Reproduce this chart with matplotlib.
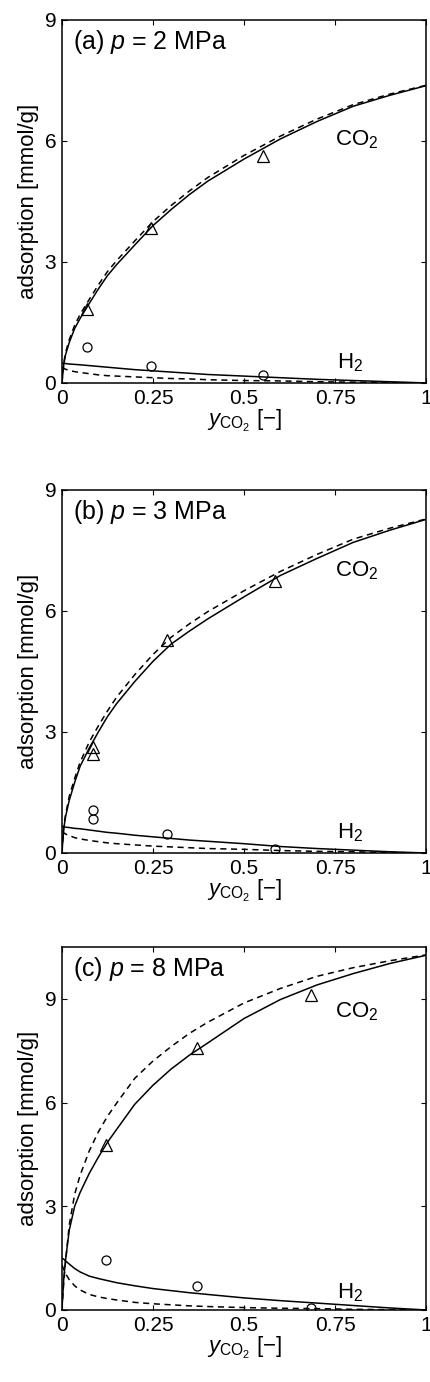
import matplotlib.pyplot as plt

plt.rcParams['font.family'] = ['Liberation Sans', 'DejaVu Sans']
plt.rcParams['mathtext.fontset'] = 'custom'
plt.rcParams['mathtext.rm'] = 'Liberation Sans'
plt.rcParams['mathtext.it'] = 'Liberation Sans:italic'

# model curves (x = CO2 mole fraction in gas)
x_curve = [0.0, 0.005, 0.01, 0.02, 0.035, 0.05, 0.075, 0.1, 0.125, 0.15, 0.2,
           0.25, 0.3, 0.35, 0.4, 0.5, 0.6, 0.7, 0.8, 0.9, 1.0]

co2_solid_a = [0.0, 0.45, 0.7, 1.0, 1.35, 1.6, 1.97, 2.33, 2.66, 2.93, 3.42,
               3.9, 4.3, 4.67, 5.0, 5.55, 6.05, 6.48, 6.86, 7.13, 7.37]
co2_dash_a = [0.0, 0.5, 0.75, 1.07, 1.43, 1.7, 2.07, 2.43, 2.76, 3.03, 3.52,
              4.0, 4.4, 4.76, 5.09, 5.64, 6.12, 6.54, 6.9, 7.16, 7.38]
h2_solid_a = [0.49, 0.49, 0.48, 0.47, 0.46, 0.45, 0.43, 0.41, 0.39, 0.37, 0.33,
              0.30, 0.27, 0.24, 0.21, 0.17, 0.13, 0.09, 0.06, 0.03, 0.0]
h2_dash_a = [0.38, 0.36, 0.34, 0.31, 0.28, 0.26, 0.23, 0.20, 0.18, 0.17, 0.15,
             0.13, 0.11, 0.10, 0.08, 0.06, 0.05, 0.03, 0.02, 0.01, 0.0]

co2_solid_b = [0.0, 0.6, 0.9, 1.3, 1.75, 2.15, 2.6, 3.0, 3.38, 3.7, 4.25,
               4.75, 5.18, 5.5, 5.8, 6.35, 6.88, 7.3, 7.7, 8.0, 8.27]
co2_dash_b = [0.0, 0.65, 0.95, 1.4, 1.85, 2.25, 2.75, 3.15, 3.52, 3.86, 4.42,
              4.92, 5.35, 5.68, 5.98, 6.5, 6.98, 7.4, 7.78, 8.05, 8.28]
h2_solid_b = [0.65, 0.65, 0.64, 0.63, 0.61, 0.60, 0.57, 0.54, 0.51, 0.49, 0.44,
              0.40, 0.36, 0.32, 0.29, 0.23, 0.16, 0.11, 0.07, 0.03, 0.0]
h2_dash_b = [0.53, 0.50, 0.47, 0.43, 0.38, 0.35, 0.31, 0.28, 0.25, 0.23, 0.20,
             0.17, 0.15, 0.13, 0.11, 0.09, 0.06, 0.04, 0.03, 0.01, 0.0]

co2_solid_c = [0.0, 0.9, 1.45, 2.3, 3.0, 3.4, 3.95, 4.42, 4.85, 5.22, 5.95,
               6.5, 6.97, 7.37, 7.72, 8.43, 8.98, 9.4, 9.73, 10.02, 10.26]
co2_dash_c = [0.0, 0.8, 1.4, 2.45, 3.35, 3.9, 4.6, 5.15, 5.6, 5.98, 6.7,
              7.2, 7.62, 8.0, 8.32, 8.88, 9.3, 9.65, 9.9, 10.1, 10.27]
h2_solid_c = [1.50, 1.47, 1.42, 1.33, 1.20, 1.10, 0.98, 0.91, 0.85, 0.79, 0.70,
              0.62, 0.56, 0.50, 0.45, 0.35, 0.27, 0.20, 0.13, 0.06, 0.0]
h2_dash_c = [1.30, 1.18, 1.05, 0.88, 0.70, 0.58, 0.45, 0.38, 0.33, 0.29, 0.22,
             0.18, 0.15, 0.12, 0.10, 0.07, 0.05, 0.04, 0.02, 0.01, 0.0]

# measured points
x_pts_a = [0.070, 0.244, 0.552]
co2_pts_a = [1.84, 3.85, 5.62]
h2_pts_a = [0.89, 0.43, 0.19]

x_pts_b = [0.084, 0.084, 0.288, 0.586]
co2_pts_b = [2.46, 2.63, 5.27, 6.74]
h2_pts_b = [1.06, 0.83, 0.46, 0.11]

x_pts_c = [0.122, 0.372, 0.683]
co2_pts_c = [4.77, 7.57, 9.11]
h2_pts_c = [1.45, 0.70, 0.07]

panels = [
    ('(a) $p$ = 2 MPa', 9.0, co2_solid_a, co2_dash_a, h2_solid_a, h2_dash_a,
     x_pts_a, co2_pts_a, h2_pts_a, 5.9, 0.35),
    ('(b) $p$ = 3 MPa', 9.0, co2_solid_b, co2_dash_b, h2_solid_b, h2_dash_b,
     x_pts_b, co2_pts_b, h2_pts_b, 6.85, 0.36),
    ('(c) $p$ = 8 MPa', 10.5, co2_solid_c, co2_dash_c, h2_solid_c, h2_dash_c,
     x_pts_c, co2_pts_c, h2_pts_c, 8.46, 0.34),
]

fig = plt.figure(figsize=(4.3, 13.82), dpi=100)
bottoms = [0.7229, 0.3828, 0.0521]
dash = (0, (4, 3))

for bottom, (title, ymax, cs, cd, hs, hd, xp, cp, hp, co2_y, h2_y) in zip(bottoms, panels):
    ax = fig.add_axes([0.144, bottom, 0.847, 0.2627])
    ax.plot(x_curve, cs, color='black', lw=1.1)
    ax.plot(x_curve, cd, color='black', lw=1.1, ls=dash)
    ax.plot(x_curve, hs, color='black', lw=1.1)
    ax.plot(x_curve, hd, color='black', lw=1.1, ls=dash)
    ax.plot(xp, cp, '^', mfc='none', mec='black', ms=8, mew=0.9)
    ax.plot(xp, hp, 'o', mfc='none', mec='black', ms=6.5, mew=0.9)

    ax.text(0.75, co2_y, 'CO$_2$', fontsize=16, va='baseline')
    ax.text(0.755, h2_y, 'H$_2$', fontsize=16, va='baseline')
    ax.text(0.03, 0.94, title, fontsize=18, va='center', transform=ax.transAxes)

    ax.set_xlim(0, 1)
    ax.set_ylim(0, ymax)
    ax.set_xticks([0, 0.25, 0.5, 0.75, 1])
    ax.set_xticklabels(['0', '0.25', '0.5', '0.75', '1'])
    ax.set_yticks([0, 3, 6, 9])
    ax.tick_params(direction='in', top=True, right=True, labelsize=15,
                   length=3.5, width=0.8, pad=4)
    for s in ax.spines.values():
        s.set_linewidth(1.1)
    ax.set_ylabel('adsorption [mmol/g]', fontsize=16, labelpad=4)
    ax.set_xlabel(r'$y_{\mathrm{CO}_2}$ [$-$]', fontsize=16, labelpad=0)

fig.savefig('out.png', dpi=100)
